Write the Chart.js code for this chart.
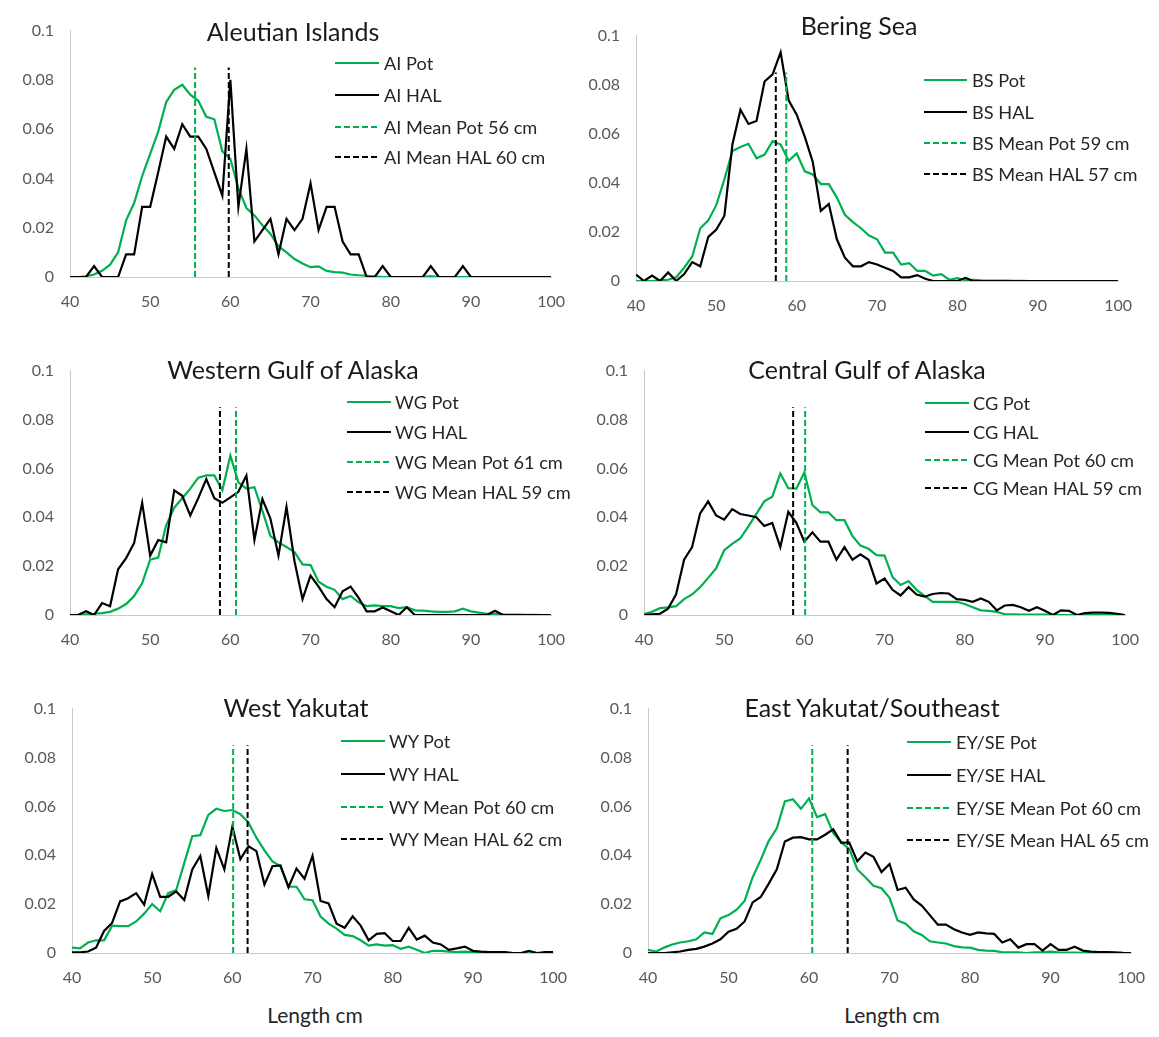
<!DOCTYPE html>
<html>
<head>
<meta charset="utf-8">
<script src="https://cdn.jsdelivr.net/npm/chart.js@4.4.1/dist/chart.umd.min.js"></script>
<style>
  body { margin:0; background:#fff; width:1159px; height:1037px; position:relative; overflow:hidden; font-family: Lato, "Open Sans", sans-serif; }
  canvas.cv { position:absolute; }
  .title { position:absolute; font-size:25px; color:#1a1a1a; white-space:nowrap; transform:translate(-50%,-50%); line-height:1; }
  .row { position:absolute; white-space:nowrap; font-size:18.2px; color:#262626; transform:translateY(-50%); line-height:1; }
  .sw { position:absolute; }
  .axt { position:absolute; font-size:21px; color:#262626; white-space:nowrap; transform:translate(-50%,-50%); line-height:1; }
</style>
</head>
<body>
<script>
// ---------------- DATA ----------------
const LENGTHS = [40,41,42,43,44,45,46,47,48,49,50,51,52,53,54,55,56,57,58,59,60,61,62,63,64,65,66,67,68,69,70,71,72,73,74,75,76,77,78,79,80,81,82,83,84,85,86,87,88,89,90,91,92,93,94,95,96,97,98,99,100];
const X_TICKS = [40,50,60,70,80,90,100];
const Y_TICKS = [0,0.02,0.04,0.06,0.08,0.1];
const MEAN_LINE_TOP = 0.085;

const AI_POT = [0,0,0.0003,0.001,0.0025,0.005,0.01,0.023,0.03,0.041,0.05,0.059,0.071,0.076,0.078,0.074,0.0715,0.065,0.064,0.051,0.048,0.036,0.028,0.025,0.021,0.0175,0.0125,0.01,0.0073,0.0055,0.004,0.0043,0.0025,0.002,0.0018,0.001,0.0007,0.0005,0.0003,0,0,0,0,0,0,0.0004,0,0,0,0,0,0,0,0,0,0,0,0,0,0,0];
const AI_HAL = [0,0,0,0.0044,0,0,0,0.0092,0.0092,0.0285,0.0285,0.0425,0.057,0.052,0.062,0.057,0.057,0.052,0.0425,0.033,0.08,0.0285,0.052,0.0144,0.019,0.0236,0.0092,0.0236,0.019,0.0236,0.038,0.019,0.0285,0.0285,0.0144,0.0092,0.0092,0,0,0.0044,0,0,0,0,0,0.0044,0,0,0,0.0044,0,0,0,0,0,0,0,0,0,0,0];

const BS_POT = [0,0,0,0.0003,0.0005,0.0015,0.0054,0.01,0.0215,0.0247,0.031,0.0414,0.053,0.0546,0.0559,0.05,0.0515,0.057,0.0556,0.049,0.052,0.0447,0.0434,0.0395,0.0395,0.034,0.027,0.024,0.0215,0.0185,0.017,0.0116,0.0116,0.0067,0.0073,0.0041,0.0041,0.0022,0.0028,0.0005,0.0012,0.0003,0.0005,0.0003,0.0002,0.0002,0.0002,0.0001,0.0001,0,0,0,0,0,0,0,0,0,0,0,0];
const BS_HAL = [0.0026,0,0.0022,0,0.0035,0,0.0028,0.0077,0.006,0.018,0.021,0.0266,0.0556,0.0698,0.064,0.0652,0.0813,0.0842,0.0932,0.0736,0.0678,0.0588,0.0485,0.0286,0.0314,0.017,0.0095,0.006,0.006,0.0077,0.0067,0.0054,0.0041,0.0015,0.0015,0.0024,0.0009,0,0,0,0,0.0013,0,0,0,0,0,0,0,0,0,0,0,0,0,0,0,0,0,0,0];

const WG_POT = [0,0,0.0003,0.0005,0.0008,0.0013,0.0026,0.0045,0.0078,0.013,0.0226,0.0235,0.0368,0.0439,0.0478,0.0517,0.0562,0.0571,0.0571,0.051,0.0652,0.0543,0.0517,0.0523,0.0426,0.0323,0.0297,0.0278,0.0258,0.0207,0.0204,0.0136,0.0116,0.0103,0.0065,0.0078,0.0052,0.0036,0.0039,0.0036,0.0036,0.0028,0.0032,0.0019,0.0018,0.0015,0.0013,0.0013,0.0015,0.0026,0.0015,0.001,0.0005,0.0005,0.0003,0.0002,0.0002,0.0001,0.0001,0,0];
const WG_HAL = [0,0,0.0015,0,0.0049,0.0036,0.0187,0.0233,0.0295,0.0459,0.0243,0.0307,0.0297,0.051,0.0488,0.0407,0.0478,0.0556,0.0478,0.0459,0.0481,0.0504,0.0571,0.0307,0.0474,0.0394,0.0243,0.0442,0.022,0.0065,0.0161,0.0116,0.0065,0.0032,0.0097,0.0116,0.007,0.0015,0.0015,0.0031,0.0015,0,0.0032,0,0,0,0,0,0,0,0,0,0,0.0017,0,0,0,0,0,0,0];

const CG_POT = [0.0003,0.0013,0.0028,0.0031,0.0036,0.0065,0.0084,0.0114,0.0152,0.0191,0.0265,0.0291,0.0313,0.0362,0.0413,0.0465,0.0484,0.0579,0.0519,0.0517,0.0584,0.045,0.042,0.042,0.0388,0.0388,0.0323,0.0284,0.0271,0.0245,0.0243,0.0155,0.0123,0.0139,0.0103,0.0078,0.0054,0.0054,0.0054,0.0054,0.0045,0.0032,0.0019,0.0017,0.0013,0.0003,0.0003,0.0002,0.0002,0.0002,0.0002,0.0001,0,0,0,0,0,0,0,0,0];
const CG_HAL = [0,0.0003,0.0005,0.0026,0.0084,0.0226,0.0278,0.0416,0.0465,0.0407,0.039,0.0433,0.0413,0.0407,0.04,0.0364,0.0377,0.0278,0.0422,0.0377,0.03,0.0338,0.03,0.03,0.0226,0.0278,0.0226,0.0248,0.0226,0.0129,0.0149,0.0103,0.008,0.0114,0.0084,0.0075,0.0086,0.009,0.0088,0.0065,0.0062,0.0054,0.0068,0.0054,0.0019,0.0039,0.0041,0.0032,0.0017,0.0032,0.0017,0,0.0019,0.0017,0,0.0008,0.001,0.001,0.0009,0.0005,0];

const WY_POT = [0.0022,0.0019,0.0043,0.0052,0.0052,0.0112,0.011,0.011,0.0129,0.0161,0.02,0.0171,0.0245,0.0258,0.0368,0.0478,0.0482,0.0565,0.059,0.0581,0.0585,0.0568,0.0534,0.0472,0.042,0.0375,0.0355,0.0271,0.0271,0.022,0.0216,0.0149,0.012,0.01,0.0074,0.0069,0.0052,0.003,0.0035,0.003,0.0032,0.0017,0.0026,0.0013,0,0.0009,0.0009,0.0006,0.0004,0.0006,0.0004,0.0003,0.0002,0.0002,0.0001,0,0,0,0,0,0];
const WY_HAL = [0.0003,0.0003,0.0006,0.0022,0.009,0.0123,0.0211,0.0224,0.0245,0.0198,0.0323,0.023,0.023,0.0252,0.0217,0.0342,0.0397,0.0233,0.043,0.0342,0.0517,0.0384,0.0437,0.0417,0.028,0.0355,0.0358,0.0269,0.0345,0.0304,0.0398,0.0213,0.0203,0.012,0.0103,0.015,0.0112,0.0052,0.0078,0.0081,0.0049,0.0049,0.0103,0.0055,0.0071,0.0043,0.0035,0.0013,0.0019,0.0026,0.0009,0.0006,0.0004,0.0004,0.0004,0,0,0.0009,0,0.0004,0.0004];

const EY_POT = [0.0013,0.0006,0.0022,0.0035,0.0043,0.0048,0.0056,0.0084,0.0078,0.0142,0.0155,0.0177,0.0213,0.031,0.0381,0.0459,0.051,0.062,0.0629,0.059,0.0633,0.0556,0.0568,0.0491,0.0452,0.0426,0.0342,0.031,0.0275,0.0265,0.0226,0.0133,0.012,0.0089,0.0074,0.0048,0.0043,0.0039,0.0028,0.0023,0.0022,0.0013,0.001,0.0009,0.0003,0.0003,0.0003,0,0.0003,0.0003,0.0006,0.0003,0.0002,0.0002,0.0001,0,0,0,0,0,0];
const EY_HAL = [0,0,0,0.0003,0.0006,0.0013,0.0017,0.0026,0.0039,0.0056,0.0087,0.0099,0.0129,0.0207,0.0229,0.0284,0.0342,0.0456,0.0472,0.0474,0.0465,0.0465,0.0484,0.0506,0.0452,0.0452,0.0375,0.0411,0.0394,0.0331,0.0364,0.0258,0.0267,0.0219,0.0194,0.0155,0.0116,0.0116,0.0097,0.0084,0.0074,0.0084,0.008,0.0078,0.0043,0.0056,0.0022,0.0036,0.0036,0.001,0.0036,0.0013,0.0013,0.0026,0.001,0.0006,0.0004,0.0004,0.0003,0.0001,0];

const TITLES = ["Aleutian Islands","Bering Sea","Western Gulf of Alaska","Central Gulf of Alaska","West Yakutat","East Yakutat/Southeast"];
const CODES = ["AI","BS","WG","CG","WY","EY/SE"];
const MEAN_POT = [55.6, 58.7, 60.7, 60.1, 60.1, 60.4];
const MEAN_HAL = [59.8, 57.4, 58.7, 58.6, 61.9, 64.8];
const MEAN_POT_LABEL = [56, 59, 61, 60, 60, 60];
const MEAN_HAL_LABEL = [60, 57, 59, 59, 62, 65];
const POT_SERIES = [AI_POT, BS_POT, WG_POT, CG_POT, WY_POT, EY_POT];
const HAL_SERIES = [AI_HAL, BS_HAL, WG_HAL, CG_HAL, WY_HAL, EY_HAL];
const AXIS_TITLE = "Length cm";

// ---------------- LAYOUT / STYLE ----------------
const GREEN = '#00b050';
const BLACK = '#000000';
const PANELS = [
  {plot:{l:70,t:17,r:555,b:277}, title:{x:293,y:31}, leg:{sx:335,sw:44,tx:384,rows:[62.7,95,126.7,157.3]}},
  {plot:{l:636,t:22,r:1122,b:281}, title:{x:859,y:25}, leg:{sx:924,sw:43,tx:972,rows:[80,111.7,143.3,174]}},
  {plot:{l:70,t:357,r:555,b:615}, title:{x:293,y:369}, leg:{sx:347,sw:44,tx:395,rows:[402.3,432.3,461.7,491.7]}},
  {plot:{l:644,t:357,r:1129,b:615}, title:{x:867,y:369}, leg:{sx:925,sw:44,tx:973,rows:[403.3,431.7,460,488.3]}},
  {plot:{l:72,t:695,r:557,b:953}, title:{x:296,y:707}, leg:{sx:341,sw:44,tx:389,rows:[741,774.3,806.7,839]}},
  {plot:{l:648,t:695,r:1135,b:953}, title:{x:872,y:707}, leg:{sx:907,sw:44,tx:956,rows:[742.3,775,807.7,840]}}
];
const AXIS_TITLE_POS = [{x:315,y:1014},{x:892,y:1014}];

const YW = 70, PT = 12, PR = 25, XH = 42;
const tickFont = {family:'Lato', size:16};

function el(tag, cls, parent){ const e=document.createElement(tag); if(cls) e.className=cls; (parent||document.body).appendChild(e); return e; }

PANELS.forEach((p, i) => {
  const W = (p.plot.r - p.plot.l) + YW + PR;
  const H = (p.plot.b - p.plot.t) + PT + XH;
  const cv = el('canvas','cv');
  cv.width = W; cv.height = H;
  cv.style.left = (p.plot.l - YW) + 'px';
  cv.style.top = (p.plot.t - PT) + 'px';
  cv.style.width = W + 'px'; cv.style.height = H + 'px';

  const pot = LENGTHS.map((x, k) => ({x, y: POT_SERIES[i][k]}));
  const hal = LENGTHS.map((x, k) => ({x, y: HAL_SERIES[i][k]}));
  const mp = [{x: MEAN_POT[i], y: 0}, {x: MEAN_POT[i], y: MEAN_LINE_TOP}];
  const mh = [{x: MEAN_HAL[i], y: 0}, {x: MEAN_HAL[i], y: MEAN_LINE_TOP}];

  new Chart(cv.getContext('2d'), {
    type: 'line',
    data: { datasets: [
      {label: CODES[i]+' Pot', data: pot, borderColor: GREEN, borderWidth: 2.2, order: 4},
      {label: CODES[i]+' HAL', data: hal, borderColor: BLACK, borderWidth: 2.2, order: 3},
      {label: CODES[i]+' Mean Pot '+MEAN_POT_LABEL[i]+' cm', data: mp, borderColor: GREEN, borderWidth: 2, borderDash:[6,3], order: 2},
      {label: CODES[i]+' Mean HAL '+MEAN_HAL_LABEL[i]+' cm', data: mh, borderColor: BLACK, borderWidth: 2, borderDash:[6,3], order: 1}
    ]},
    options: {
      responsive: false, animation: false, devicePixelRatio: 1,
      layout: {padding: {top: PT, right: PR, left: 0, bottom: 0}},
      elements: {point: {radius: 0, hoverRadius: 0}, line: {tension: 0, fill: false}},
      plugins: {legend: {display: false}, title: {display: false}, tooltip: {enabled: false}},
      scales: {
        x: {type: 'linear', min: 40, max: 100,
            afterBuildTicks: s => { s.ticks = X_TICKS.map(v => ({value: v})); },
            ticks: {padding: 15, color: '#595959', font: tickFont, maxRotation: 0},
            grid: {display: false, drawTicks: false},
            border: {display: true, color: '#c9c9c9', width: 1},
            afterFit: s => { s.height = XH; }},
        y: {type: 'linear', min: 0, max: 0.1,
            afterBuildTicks: s => { s.ticks = Y_TICKS.map(v => ({value: v})); },
            ticks: {padding: 16, color: '#595959', font: tickFont, callback: v => String(+Number(v).toFixed(2))},
            grid: {display: false, drawTicks: false},
            border: {display: true, color: '#c9c9c9', width: 1},
            afterFit: s => { s.width = YW; }}
      }
    }
  });

  const t = el('div','title'); t.textContent = TITLES[i];
  t.style.left = p.title.x + 'px'; t.style.top = p.title.y + 'px';

  const labels = [CODES[i]+' Pot', CODES[i]+' HAL', CODES[i]+' Mean Pot '+MEAN_POT_LABEL[i]+' cm', CODES[i]+' Mean HAL '+MEAN_HAL_LABEL[i]+' cm'];
  const cols = [GREEN, BLACK, GREEN, BLACK];
  const dashed = [false, false, true, true];
  labels.forEach((lab, j) => {
    const y = p.leg.rows[j];
    const svgNS = 'http://www.w3.org/2000/svg';
    const svg = document.createElementNS(svgNS,'svg');
    svg.setAttribute('class','sw');
    svg.setAttribute('width', p.leg.sw); svg.setAttribute('height', 6);
    svg.style.left = p.leg.sx + 'px'; svg.style.top = (y - 3) + 'px';
    const ln = document.createElementNS(svgNS,'line');
    ln.setAttribute('x1',0); ln.setAttribute('x2',p.leg.sw); ln.setAttribute('y1',3); ln.setAttribute('y2',3);
    ln.setAttribute('stroke', cols[j]); ln.setAttribute('stroke-width', 2);
    if (dashed[j]) ln.setAttribute('stroke-dasharray','6 3');
    svg.appendChild(ln); document.body.appendChild(svg);
    const r = el('div','row'); r.textContent = lab;
    r.style.left = p.leg.tx + 'px'; r.style.top = y + 'px';
  });
});

AXIS_TITLE_POS.forEach(pos => {
  const a = el('div','axt'); a.textContent = AXIS_TITLE;
  a.style.left = pos.x + 'px'; a.style.top = pos.y + 'px';
});
</script>
</body>
</html>
